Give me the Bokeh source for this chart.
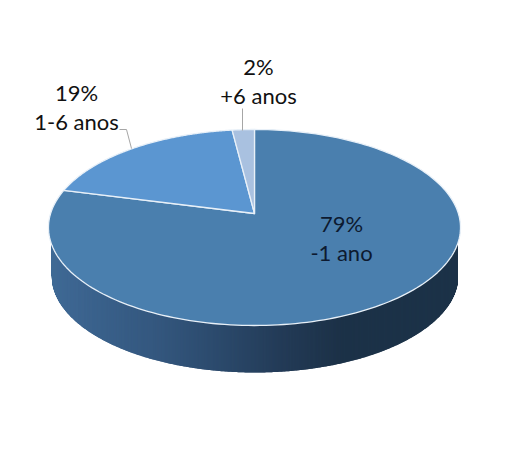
import numpy as np
from bokeh.plotting import figure
from bokeh.models import Range1d
from bokeh.core.properties import value
from bokeh.embed import file_html
from bokeh.resources import INLINE

categories = ["-1 ano", "1-6 anos", "+6 anos"]
values = [79, 19, 2]
percent_labels = ["79%", "19%", "2%"]
colors = ["#4a7fae", "#5b96d1", "#a9c1e0"]
label_xy = [(341, 223), (76, 92), (258, 66)]
leaders = [None, ([119, 126, 131], [129, 129, 148]), ([242, 242], [108, 130])]

CX, CY, A, B, K, APEX = 254.0, 227.0, 203.9, 96.0, 0.1429, 14.0
DEPTH_CY, DEPTH_RX, DEPTH_RY = 275.0, 203.5, 97.0

def project(theta):
    """theta clockwise from 12 o'clock on the pie's circle -> screen position"""
    u, v = np.sin(theta), np.cos(theta)
    w = 1 + K * v
    return CX + A * u / w, CY - (B * v / w + APEX)

p = figure(width=492, height=437, output_backend="svg", toolbar_location=None,
           x_range=Range1d(0, 492), y_range=Range1d(437, 0), min_border=0,
           outline_line_color=None, background_fill_color="white")
p.axis.visible = False
p.grid.visible = False

# side wall with horizontal shading
stops_x = [50, 100, 160, 220, 280, 340, 400, 458]
stops_r = [64, 58, 52, 44, 36, 29, 28, 28]
stops_g = [106, 97, 87, 74, 60, 50, 51, 50]
stops_b = [150, 139, 126, 108, 88, 72, 72, 72]
edge_x = np.linspace(CX - DEPTH_RX, CX + DEPTH_RX, 409)
edge_y = DEPTH_CY + DEPTH_RY * np.sqrt(np.clip(1 - ((edge_x - CX) / DEPTH_RX) ** 2, 0, 1))
strip_xs, strip_ys, cols = [], [], []
for x0, x1, y0, y1 in zip(edge_x[:-1], edge_x[1:], edge_y[:-1], edge_y[1:]):
    # each strip overlaps the next one so that no seam shows
    strip_xs.append([x0, x1 + 1, x1 + 1, x0])
    strip_ys.append([CY, CY, y1, y0])
    m = (x0 + x1) / 2
    cols.append("#%02x%02x%02x" % (int(np.interp(m, stops_x, stops_r)),
                                   int(np.interp(m, stops_x, stops_g)),
                                   int(np.interp(m, stops_x, stops_b))))
p.patches(strip_xs[:-1], strip_ys[:-1], fill_color=cols[:-1], line_color=None)

# top face, built from the values
fractions = np.array(values) / sum(values)
edges = np.concatenate([[0], np.cumsum(fractions)]) * 2 * np.pi
ax, ay = CX, CY - APEX
for i, cat in enumerate(categories):
    t = np.linspace(edges[i], edges[i + 1], 200)
    x, y = project(t)
    p.patch(np.r_[ax, x], np.r_[ay, y], fill_color=colors[i],
            line_color="#e8f0f8", line_width=1.3, line_join="round")

# leaders
for l in leaders:
    if l:
        p.line(l[0], l[1], line_color="#a6a6a6", line_width=1)

# labels
for i, cat in enumerate(categories):
    lx, ly = label_xy[i]
    color = "#0d1a30" if i == 0 else "#111111"
    p.text([lx], [ly], text=[percent_labels[i]], text_font=value("Lato"), text_font_size="22px",
           text_align="center", text_baseline="middle", text_color=color)
    p.text([lx], [ly + 29], text=[cat], text_font=value("Lato"), text_font_size="22px",
           text_align="center", text_baseline="middle", text_color=color)

open("out.html", "w").write(file_html(p, INLINE))
